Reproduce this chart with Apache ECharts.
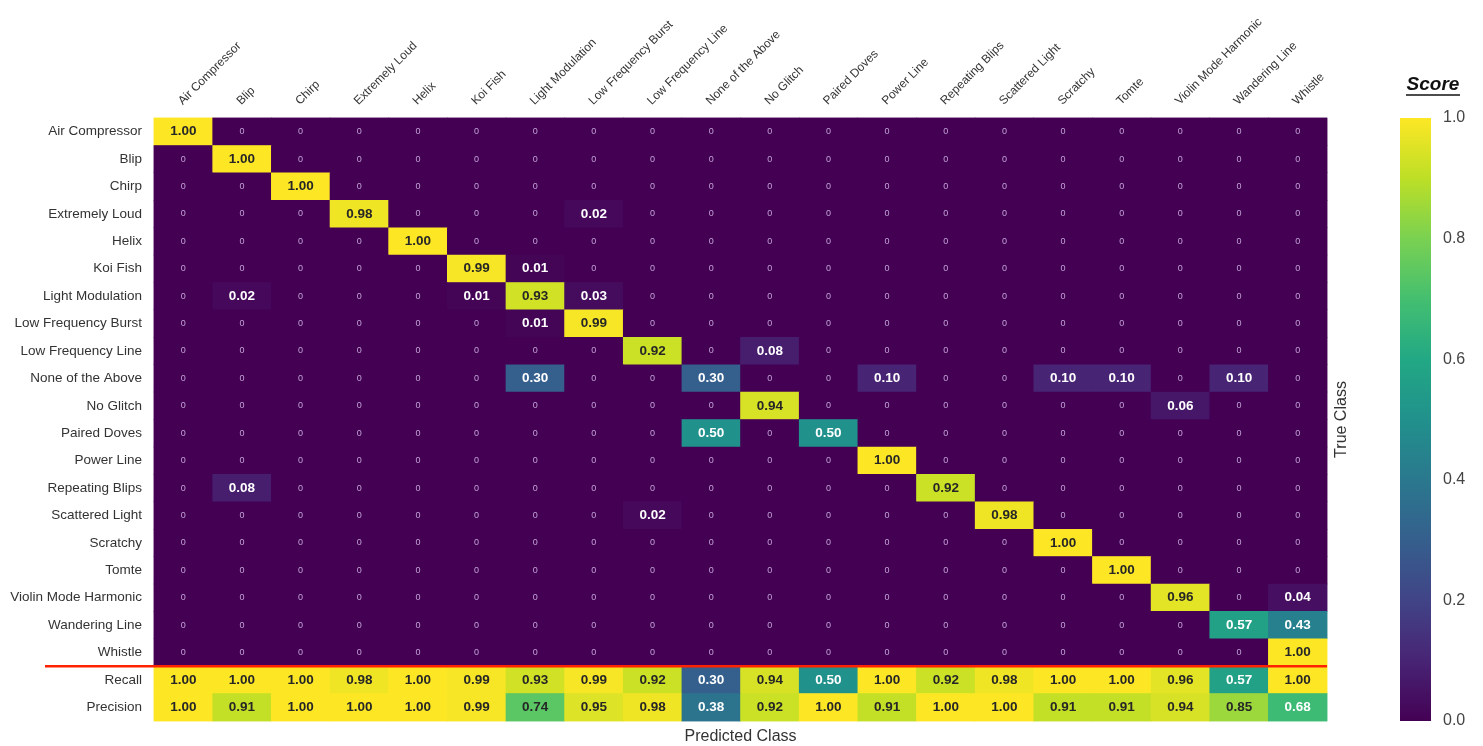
<!DOCTYPE html>
<html>
<head>
<meta charset="utf-8">
<script src="https://cdn.jsdelivr.net/npm/echarts@6/dist/echarts.min.js"></script>
<style>
html,body{margin:0;padding:0;background:#fff;}
#main{width:1483px;height:746px;}
</style>
</head>
<body>
<div id="main"></div>
<script>
// ---- data ----
const classes = ["Air Compressor","Blip","Chirp","Extremely Loud","Helix","Koi Fish","Light Modulation","Low Frequency Burst","Low Frequency Line","None of the Above","No Glitch","Paired Doves","Power Line","Repeating Blips","Scattered Light","Scratchy","Tomte","Violin Mode Harmonic","Wandering Line","Whistle"];
const metricRows = ["Recall","Precision"];
// confusion matrix rows (true class) x columns (predicted class)
const rowAirCompressor   = [1.00,0,0,0,0,0,0,0,0,0,0,0,0,0,0,0,0,0,0,0];
const rowBlip            = [0,1.00,0,0,0,0,0,0,0,0,0,0,0,0,0,0,0,0,0,0];
const rowChirp           = [0,0,1.00,0,0,0,0,0,0,0,0,0,0,0,0,0,0,0,0,0];
const rowExtremelyLoud   = [0,0,0,0.98,0,0,0,0.02,0,0,0,0,0,0,0,0,0,0,0,0];
const rowHelix           = [0,0,0,0,1.00,0,0,0,0,0,0,0,0,0,0,0,0,0,0,0];
const rowKoiFish         = [0,0,0,0,0,0.99,0.01,0,0,0,0,0,0,0,0,0,0,0,0,0];
const rowLightModulation = [0,0.02,0,0,0,0.01,0.93,0.03,0,0,0,0,0,0,0,0,0,0,0,0];
const rowLFBurst         = [0,0,0,0,0,0,0.01,0.99,0,0,0,0,0,0,0,0,0,0,0,0];
const rowLFLine          = [0,0,0,0,0,0,0,0,0.92,0,0.08,0,0,0,0,0,0,0,0,0];
const rowNoneAbove       = [0,0,0,0,0,0,0.30,0,0,0.30,0,0,0.10,0,0,0.10,0.10,0,0.10,0];
const rowNoGlitch        = [0,0,0,0,0,0,0,0,0,0,0.94,0,0,0,0,0,0,0.06,0,0];
const rowPairedDoves     = [0,0,0,0,0,0,0,0,0,0.50,0,0.50,0,0,0,0,0,0,0,0];
const rowPowerLine       = [0,0,0,0,0,0,0,0,0,0,0,0,1.00,0,0,0,0,0,0,0];
const rowRepeatingBlips  = [0,0.08,0,0,0,0,0,0,0,0,0,0,0,0.92,0,0,0,0,0,0];
const rowScatteredLight  = [0,0,0,0,0,0,0,0,0.02,0,0,0,0,0,0.98,0,0,0,0,0];
const rowScratchy        = [0,0,0,0,0,0,0,0,0,0,0,0,0,0,0,1.00,0,0,0,0];
const rowTomte           = [0,0,0,0,0,0,0,0,0,0,0,0,0,0,0,0,1.00,0,0,0];
const rowViolinMode      = [0,0,0,0,0,0,0,0,0,0,0,0,0,0,0,0,0,0.96,0,0.04];
const rowWanderingLine   = [0,0,0,0,0,0,0,0,0,0,0,0,0,0,0,0,0,0,0.57,0.43];
const rowWhistle         = [0,0,0,0,0,0,0,0,0,0,0,0,0,0,0,0,0,0,0,1.00];
const recall    = [1.00,1.00,1.00,0.98,1.00,0.99,0.93,0.99,0.92,0.30,0.94,0.50,1.00,0.92,0.98,1.00,1.00,0.96,0.57,1.00];
const precision = [1.00,0.91,1.00,1.00,1.00,0.99,0.74,0.95,0.98,0.38,0.92,1.00,0.91,1.00,1.00,0.91,0.91,0.94,0.85,0.68];
const colorbarTicks = [0,0.2,0.4,0.6,0.8,1.0];

// ---- build ----
const matrixRows = [rowAirCompressor,rowBlip,rowChirp,rowExtremelyLoud,rowHelix,rowKoiFish,rowLightModulation,rowLFBurst,rowLFLine,rowNoneAbove,rowNoGlitch,rowPairedDoves,rowPowerLine,rowRepeatingBlips,rowScatteredLight,rowScratchy,rowTomte,rowViolinMode,rowWanderingLine,rowWhistle,recall,precision];
const yCats = classes.concat(metricRows);
const heatData = [];
matrixRows.forEach((row, r) => row.forEach((v, c) => heatData.push([c, r, v])));

const viridis = ['#440154','#482475','#414487','#355f8d','#2a788e','#21918c','#22a884','#44bf70','#7ad151','#bddf26','#fde725'];
const FONT = 'Liberation Sans, Arial, sans-serif';

const chart = echarts.init(document.getElementById('main'), null, {renderer:'canvas'});
const option = {
  backgroundColor: '#ffffff',
  animation: false,
  textStyle: {fontFamily: FONT},
  grid: [
    {left:154, top:118, width:1173, height:603},
    {left:1400, top:118, width:31, height:603}
  ],
  xAxis: [
    {type:'category', gridIndex:0, position:'top', data:classes,
     axisLine:{show:false}, axisTick:{show:false}, splitLine:{show:false},
     axisLabel:{show:false}},
    {type:'category', gridIndex:1, data:['cb'], show:false}
  ],
  yAxis: [
    {type:'category', gridIndex:0, data:yCats, inverse:true,
     axisLine:{show:false}, axisTick:{show:false}, splitLine:{show:false},
     axisLabel:{interval:0, margin:12, fontSize:13.5, color:'#333', fontFamily:FONT}},
    {type:'value', gridIndex:1, min:0, max:1, interval:0.2, position:'right',
     axisLine:{show:false}, axisTick:{show:false}, splitLine:{show:false},
     axisLabel:{margin:12, fontSize:16, color:'#444', fontFamily:FONT,
       formatter: v => (colorbarTicks.some(t => Math.abs(t - v) < 1e-9) ? v.toFixed(1) : '')}}
  ],
  visualMap: {
    show:false, type:'continuous', min:0, max:1, dimension:2, seriesIndex:[0,1],
    inRange:{color:viridis}
  },
  series: [
    // underlay (same cells, no labels) to hide anti-aliasing seams between cells
    {type:'heatmap', xAxisIndex:0, yAxisIndex:0, data:heatData, silent:true,
     itemStyle:{borderWidth:0}, emphasis:{disabled:true}, label:{show:false}, z:1},
    {type:'heatmap', xAxisIndex:0, yAxisIndex:0, data:heatData,
     itemStyle:{borderWidth:0},
     emphasis:{disabled:true}, z:2,
     label:{show:true,
       formatter: p => {
         const v = p.value[2];
         if (v === 0) return '{z|0}';
         return (v >= 0.7 ? '{d|' : '{w|') + v.toFixed(2) + '}';
       },
       rich:{
         z:{fontSize:9, color:'#c2a3d6', fontFamily:FONT},
         d:{fontSize:13.5, fontWeight:'bold', color:'#262626', fontFamily:FONT},
         w:{fontSize:13.5, fontWeight:'bold', color:'#ffffff', fontFamily:FONT}
       }}
    },
    {type:'bar', xAxisIndex:1, yAxisIndex:1, data:[1], barWidth:'100%', silent:true,
     itemStyle:{color:{type:'linear', x:0, y:1, x2:0, y2:0,
       colorStops: viridis.map((c,i) => ({offset:i/(viridis.length-1), color:c}))}}}
  ]
};
chart.setOption(option);

// decorations positioned through the axes
const yW = chart.convertToPixel({yAxisIndex:0}, 'Whistle');
const yR = chart.convertToPixel({yAxisIndex:0}, 'Recall');
const sepY = (yW + yR) / 2;
const xFirst = chart.convertToPixel({xAxisIndex:0}, classes[0]);
const xLast = chart.convertToPixel({xAxisIndex:0}, classes[classes.length-1]);
const cw = (xLast - xFirst) / (classes.length - 1);
const gridRight = xLast + cw/2;
const gridLeft = xFirst - cw/2;
const yTop = chart.convertToPixel({yAxisIndex:0}, yCats[0]);
const yBot = chart.convertToPixel({yAxisIndex:0}, yCats[yCats.length-1]);
const midY = (yTop + yBot) / 2;
const gridTop = yTop - (yBot - yTop) / (yCats.length - 1) / 2;

// rotated column labels (start at column centre, rising to the right)
const colLabels = classes.map(name => ({
  type:'text',
  x: chart.convertToPixel({xAxisIndex:0}, name) - 3,
  y: gridTop - 15,
  rotation: Math.PI/4,
  style:{text:name, font:'12px '+FONT, fill:'#333', align:'left', verticalAlign:'middle'}
}));

chart.setOption({
  graphic: colLabels.concat([
    {type:'line', shape:{x1:45, y1:sepY, x2:gridRight, y2:sepY}, style:{stroke:'#ff2200', lineWidth:2.5}, z:100},
    {type:'text', x:(gridLeft+gridRight)/2, y:737, style:{text:'Predicted Class', font:'16px '+FONT, fill:'#333', align:'center', verticalAlign:'middle'}},
    {type:'text', x:1342, y:midY, rotation:Math.PI/2, style:{text:'True Class', font:'16px '+FONT, fill:'#333', align:'center', verticalAlign:'middle'}},
    {type:'text', x:1433, y:85, style:{text:'Score', font:'italic bold 19px '+FONT, fill:'#111', align:'center', verticalAlign:'middle'}},
    {type:'line', shape:{x1:1406, y1:95, x2:1460, y2:95}, style:{stroke:'#111', lineWidth:1.5}}
  ])
});
</script>
</body>
</html>
